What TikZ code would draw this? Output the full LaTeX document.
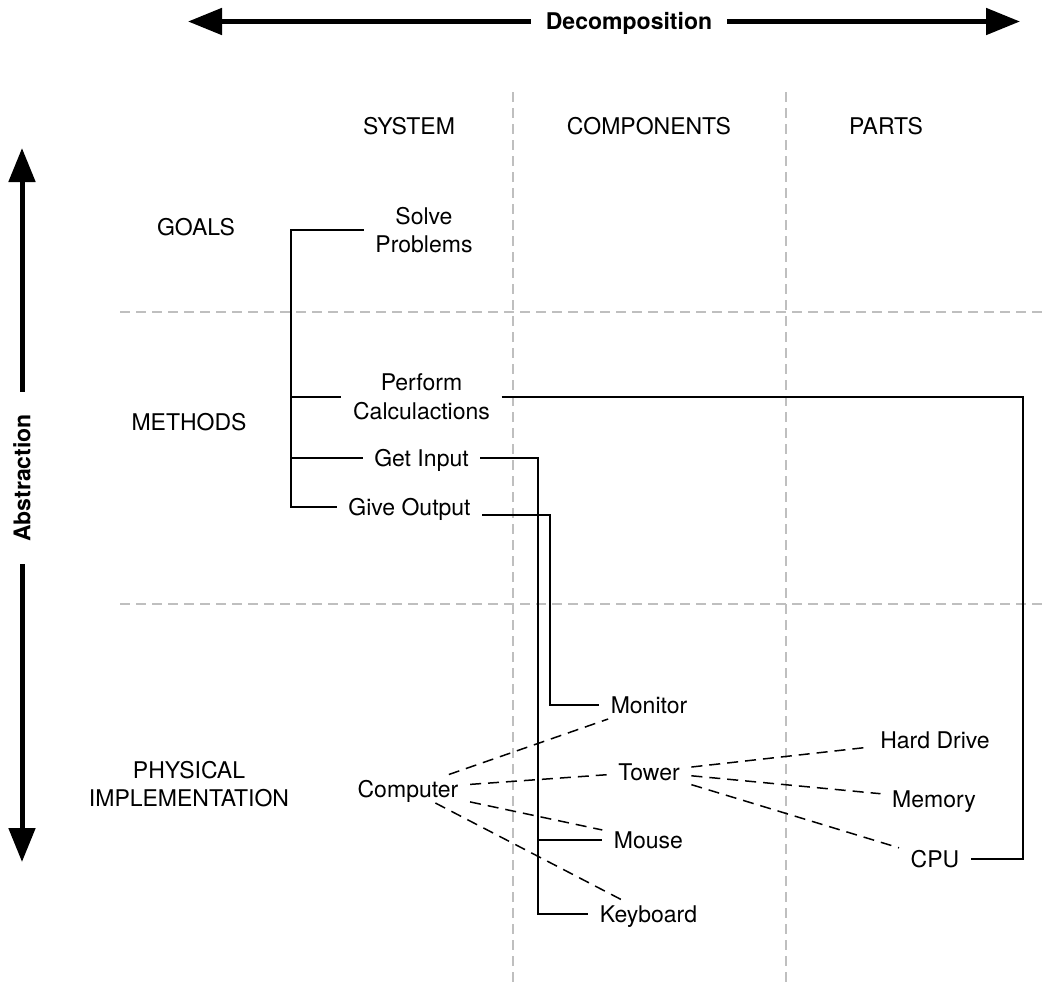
\documentclass[tikz,border=0pt]{standalone}
\usepackage{fontspec}
\setmainfont{TeX Gyre Heros}
\usetikzlibrary{arrows.meta}

\begin{document}
\begin{tikzpicture}[x=1pt,y=-1pt,>=Triangle,
    txt/.style={font=\fontsize{23}{28.5}\selectfont,inner xsep=11.5pt,inner ysep=5.8pt,text height=16.5pt,text depth=0pt},
    txtml/.style={font=\fontsize{23}{28.5}\selectfont,inner xsep=11.5pt,inner ysep=3pt,align=center},
    ttl/.style={txt,font=\fontsize{23}{28.5}\selectfont\bfseries,inner xsep=15pt},
    grid/.style={gray!50,line width=1.5pt,dash pattern=on 10pt off 6pt},
    tie/.style={line width=1.6pt},
    assoc/.style={line width=1.5pt,dash pattern=on 11pt off 7pt},
    bigarrow/.style={line width=5pt,-{Triangle[length=34pt,width=26pt]}}]
\useasboundingbox (0,0) rectangle (1046,983);
\draw[grid] (513,92) -- (513,983);
\draw[grid] (786,92) -- (786,983);
\draw[grid] (120,312) -- (1046,312);
\draw[grid] (120,604) -- (1046,604);
\node[ttl] (decomp) at (629,21.5) {Decomposition};
\coordinate (decompL) at (188,21.5);
\coordinate (decompR) at (1020,21.5);
\draw[bigarrow] (decomp.west) -- (decompL);
\draw[bigarrow] (decomp.east) -- (decompR);
\node[ttl,rotate=90,inner xsep=22pt] (abstr) at (22,478) {Abstraction};
\coordinate (abstrT) at (22,148);
\coordinate (abstrB) at (22,862);
\draw[bigarrow] (abstr.east) -- (abstrT);
\draw[bigarrow] (abstr.west) -- (abstrB);
\node[txt] (sys) at (409,125.75) {SYSTEM};
\node[txt] (comps) at (649,125.75) {COMPONENTS};
\node[txt] (parts) at (886,125.75) {PARTS};
\node[txt] (goals) at (196,226.75) {GOALS};
\node[txt] (methods) at (189,421.75) {METHODS};
\node[txtml] (phys) at (189,784) {PHYSICAL\\IMPLEMENTATION};
\node[txtml] (solve) at (424,230) {Solve\\Problems};
\node[txtml] (calc) at (421.5,397) {Perform\\Calculactions};
\node[txt] (input) at (421.5,457.75) {Get Input};
\node[txt] (output) at (409.5,506.75) {Give Output};
\coordinate (trunk) at (291,400);
\draw[tie] (solve.west) -| (trunk) |- (output.west);
\draw[tie] (trunk |- calc.west) -- (calc.west);
\draw[tie] (trunk |- input.west) -- (input.west);
\node[txt] (computer) at (408,788.75) {Computer};
\node[txt] (monitor) at (649,704.75) {Monitor};
\node[txt] (tower) at (649,771.75) {Tower};
\node[txt] (mouse) at (648.5,839.75) {Mouse};
\node[txt] (keyboard) at (648.5,913.75) {Keyboard};
\node[txt] (hdd) at (935,739.75) {Hard Drive};
\node[txt] (memory) at (934,798.75) {Memory};
\node[txt] (cpu) at (935,858.75) {CPU};
\foreach \n in {monitor,tower,mouse,keyboard}
  \draw[assoc] (computer) -- (\n);
\foreach \n in {hdd,memory,cpu}
  \draw[assoc] (tower) -- (\n);
\coordinate (railin) at (538,700);
\coordinate (railout) at (550,600);
\coordinate (railcalc) at (1023,600);
\draw[tie] (input.east) -| (railin) |- (keyboard.west);
\draw[tie] (railin |- mouse.west) -- (mouse.west);
\draw[tie] ([yshift=-8.5pt]output.east) -| (railout) |- (monitor.west);
\draw[tie] (calc.east) -| (railcalc) |- (cpu.east);
\end{tikzpicture}
\end{document}
